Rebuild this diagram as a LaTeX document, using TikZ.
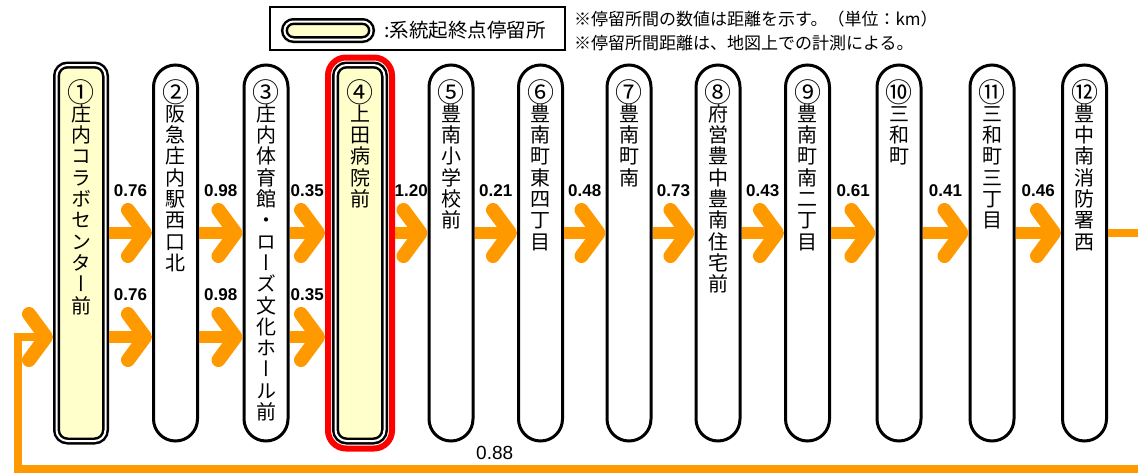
\documentclass[tikz,border=0pt]{standalone}
\usepackage{fontspec}
\usetikzlibrary{arrows.meta,positioning}
\newfontfamily\jpfont{Noto Sans CJK JP}
\newfontfamily\tatefont[RawFeature=+vert]{Noto Sans CJK JP}
\newfontfamily\numfont{Liberation Sans}
\definecolor{routeorange}{RGB}{255,153,0}
\definecolor{termyellow}{RGB}{255,255,204}
% one character per line, the stop number a bit larger
\def\tatechar#1{\ifx\relax#1\else\hbox to 20pt{\hss#1\hss}\expandafter\tatechar\fi}
\newcommand\tatenum[1]{\hbox to 20pt{\hss\vphantom{庄}\smash{\raisebox{-2.6pt}{\fontsize{27pt}{27pt}\selectfont#1}}\hss}}
\newcommand\tate[2]{\vbox{\tatefont\fontsize{20pt}{21.3pt}\selectfont
  \baselineskip=21.3pt\lineskiplimit=-20pt\tatenum{#1}\expandafter\tatechar#2\relax}}

\begin{document}
\begin{tikzpicture}[x=1pt, y=1pt,
    stop/.style={draw, line width=3pt, fill=white, rounded corners=22pt,
      minimum width=44pt, minimum height=376pt, inner sep=0pt, outer sep=1.5pt},
    termstop/.style={stop, fill=termyellow, double=white, double distance=2pt,
      line width=2.5pt, rounded corners=11pt, minimum width=49pt, outer sep=3.5pt},
    basestop/.style={termstop, outer sep=10.5pt},
    baseframe/.style={draw=red, line width=6pt, rounded corners=18pt,
      minimum width=64pt, minimum height=391pt, inner sep=0pt},
    stoptext/.style={anchor=north, inner sep=0pt},
    flow/.style={draw=routeorange, line width=12pt,
      -{Straight Barb[length=17pt, width=46pt, line width=14pt, round]}},
    backflow/.style={draw=routeorange, line width=8pt,
      -{Straight Barb[length=17pt, width=46pt, line width=14pt, round]}},
    dist/.style={midway, above=30pt, inner sep=0pt,
      font=\numfont\bfseries\fontsize{17pt}{17pt}\selectfont},
    notetext/.style={anchor=west, inner sep=0pt, font=\jpfont\fontsize{17pt}{17pt}\selectfont}]
  \useasboundingbox (0,0) rectangle (1138,-472);
  \coordinate (rowA) at (0,-233);
  \coordinate (rowB) at (0,-337);

  % legend and notes
  \node[draw, line width=1.5pt, minimum width=295pt, minimum height=43pt] (legend) at (417.5,-28.5) {};
  \node[termstop, minimum width=87pt, minimum height=18pt, rounded corners=9pt] (legkey) at (328,-30.5) {};
  \node[right=9pt of legkey, inner sep=0pt, font=\jpfont\fontsize{19.5pt}{19.5pt}\selectfont] (legtext) {:系統起終点停留所};
  \node[notetext] (note1) at (574,-19) {※停留所間の数値は距離を示す。（単位：km）};
  \node[notetext] (note2) at (574,-43) {※停留所間距離は、地図上での計測による。};

  % stops
  \foreach \i/\x/\sty/\num/\name in {1/81/termstop/①/庄内コラボセンター前,
      2/175.5/stop/②/阪急庄内駅西口北, 3/266/stop/③/庄内体育館・ローズ文化ホール前,
      4/360/basestop/④/上田病院前, 5/451/stop/⑤/豊南小学校前,
      6/540.5/stop/⑥/豊南町東四丁目, 7/629/stop/⑦/豊南町南,
      8/718/stop/⑧/府営豊中豊南住宅前, 9/807.5/stop/⑨/豊南町南二丁目,
      10/899/stop/⑩/三和町, 11/992/stop/⑪/三和町三丁目, 12/1084.5/stop/⑫/豊中南消防署西}{
    \node[\sty] (s\i) at (\x,-253) {};
    \node[stoptext] (t\i) at (\x,-83) {\tate{\num}{\name}};
  }
  \node[baseframe] (f4) at (s4) {};

  % distances
  \foreach \a/\b/\d in {1/2/0.76, 2/3/0.98, 3/4/0.35, 4/5/1.20, 5/6/0.21, 6/7/0.48,
      7/8/0.73, 8/9/0.43, 9/10/0.61, 10/11/0.41, 11/12/0.46}
    \draw[flow] (s\a.east |- rowA) -- node[dist] {\d} (s\b.west |- rowA);
  \foreach \a/\b/\d in {1/2/0.76, 2/3/0.98, 3/4/0.35}
    \draw[flow] (s\a.east |- rowB) -- node[dist] {\d} (s\b.west |- rowB);

  % back to the first stop
  \draw[backflow] (s12.east |- rowA) -- (1143,-233) |- node[pos=0.788, above=4pt, fill=white,
      inner sep=1pt, font=\numfont\fontsize{19pt}{19pt}\selectfont] (d13) {0.88}
    (17.5,-469) |- (s1.west |- rowB);
\end{tikzpicture}
\end{document}
